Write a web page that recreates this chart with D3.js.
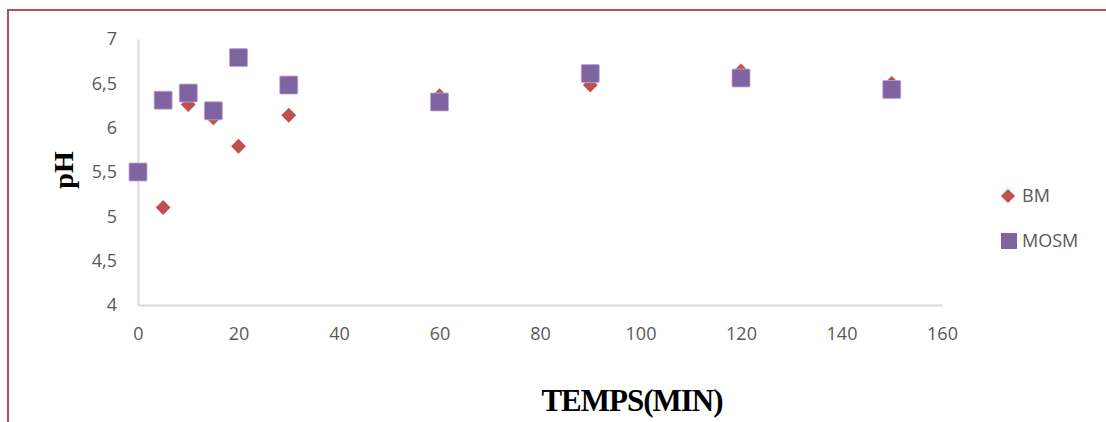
<!DOCTYPE html>
<html>
<head>
<meta charset="utf-8">
<title>pH</title>
<script src="https://d3js.org/d3.v7.min.js"></script>
<style>
  body { margin: 0; background: #fff; }
</style>
</head>
<body>
<div id="chart"></div>
<script>
// temps (min)
const timesBM   = [0, 5, 10, 15, 20, 30, 60, 90, 120, 150];
const valuesBM  = [5.5, 5.1, 6.26, 6.11, 5.79, 6.14, 6.36, 6.48, 6.64, 6.50];
const timesMOSM  = [0, 5, 10, 15, 20, 30, 60, 90, 120, 150];
const valuesMOSM = [5.5, 6.31, 6.39, 6.19, 6.79, 6.48, 6.29, 6.61, 6.56, 6.43];
const xTicks = [0, 20, 40, 60, 80, 100, 120, 140, 160];
const yTicks = [4, 4.5, 5, 5.5, 6, 6.5, 7];
const seriesNames = ["BM", "MOSM"];

const W = 1106, H = 422;
const svg = d3.select("#chart").append("svg")
  .attr("width", W).attr("height", H);

// frame
svg.append("path")
  .attr("d", "M8,423 L8,10 L1107,10")
  .attr("fill", "none")
  .attr("stroke", "#b4504e")
  .attr("stroke-width", 2);

const x = d3.scaleLinear().domain([0, 160]).range([138, 942]);
const y = d3.scaleLinear().domain([4, 7]).range([305, 39]);

const fmt = d => String(d).replace(".", ",");

const xAxis = svg.append("g")
  .attr("transform", "translate(0,305)")
  .call(d3.axisBottom(x).tickValues(xTicks).tickSize(0).tickPadding(22).tickFormat(fmt));
const yAxis = svg.append("g")
  .attr("transform", "translate(138,0)")
  .call(d3.axisLeft(y).tickValues(yTicks).tickSize(0).tickPadding(21).tickFormat(fmt));

[xAxis, yAxis].forEach(g => {
  g.select(".domain").attr("stroke", "#d9d9d9").attr("stroke-width", 2);
  g.selectAll("text")
    .attr("fill", "#595959")
    .attr("font-family", "'Open Sans', sans-serif")
    .attr("font-size", "18px");
});

const diamond = d3.symbol().type(d3.symbolSquare).size(110);

svg.append("g").selectAll("path")
  .data(timesBM.map((t, i) => [t, valuesBM[i]]))
  .join("path")
  .attr("d", diamond)
  .attr("transform", d => `translate(${x(d[0])},${y(d[1])}) rotate(45)`)
  .attr("fill", "#c0504d");

svg.append("g").selectAll("rect")
  .data(timesMOSM.map((t, i) => [t, valuesMOSM[i]]))
  .join("rect")
  .attr("x", d => x(d[0]) - 9)
  .attr("y", d => y(d[1]) - 9)
  .attr("width", 18).attr("height", 18)
  .attr("rx", 1)
  .attr("fill", "#8064a2")
  .attr("stroke", "#b9a9cf")
  .attr("stroke-width", 0.8);

// legend
const leg = svg.append("g").attr("transform", "translate(1008,0)");
leg.append("path")
  .attr("d", d3.symbol().type(d3.symbolSquare).size(100))
  .attr("transform", "translate(0,196) rotate(45)")
  .attr("fill", "#c0504d");
leg.append("rect")
  .attr("x", -7).attr("y", 233).attr("width", 16).attr("height", 16)
  .attr("fill", "#8064a2");
leg.selectAll("text")
  .data(seriesNames)
  .join("text")
  .attr("x", 14)
  .attr("y", (d, i) => 196 + i * 45)
  .attr("dy", "0.35em")
  .attr("fill", "#595959")
  .attr("font-family", "'Open Sans', sans-serif")
  .attr("font-size", "18px")
  .text(d => d);

// axis titles
svg.append("text")
  .attr("transform", "translate(73,170) rotate(-90)")
  .attr("text-anchor", "middle")
  .attr("font-family", "'Liberation Serif', serif")
  .attr("font-weight", "bold")
  .attr("font-size", "28px")
  .text("pH");

svg.append("text")
  .attr("x", 632).attr("y", 411)
  .attr("text-anchor", "middle")
  .attr("font-family", "'Liberation Serif', serif")
  .attr("font-weight", "bold")
  .attr("font-size", "31px")
  .attr("letter-spacing", "-1px")
  .text("TEMPS(MIN)");
</script>
</body>
</html>
